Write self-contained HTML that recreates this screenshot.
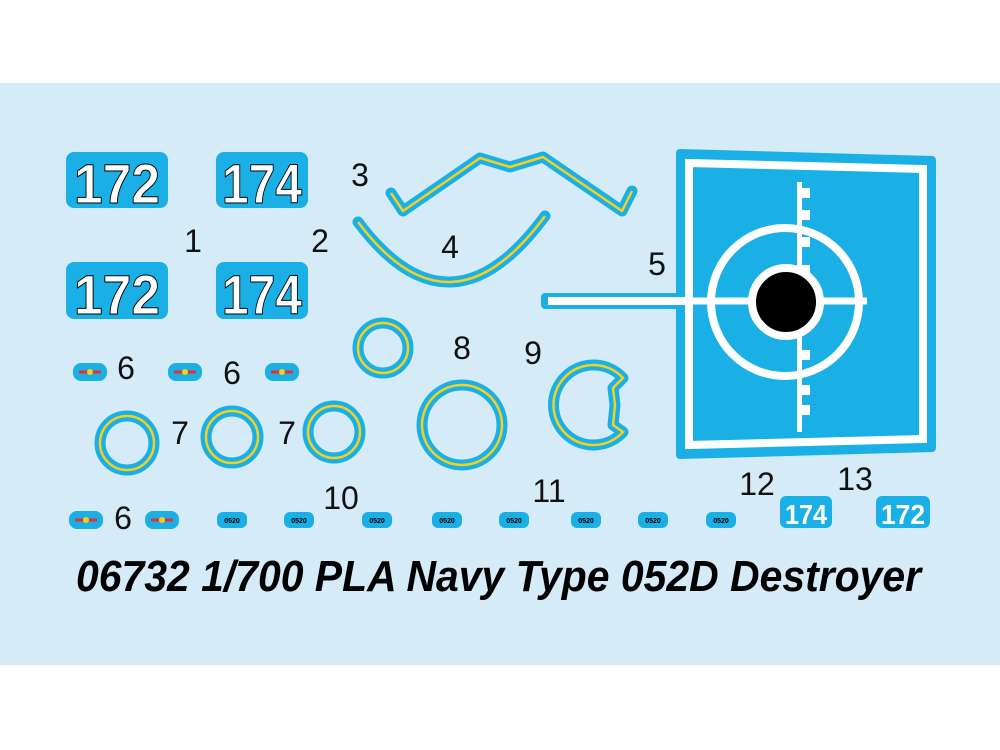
<!DOCTYPE html>
<html><head><meta charset="utf-8"><style>
html,body{margin:0;padding:0;background:#fff;}
svg{display:block;}
text{font-family:"Liberation Sans",sans-serif;}
</style></head><body>
<svg width="1000" height="750" viewBox="0 0 1000 750" xmlns="http://www.w3.org/2000/svg">
<rect x="0" y="0" width="1000" height="750" fill="#fff"/>
<rect x="0" y="83" width="1000" height="582" fill="#d5ecf8"/>

<!-- number decals -->
<g font-weight="bold" font-size="56" fill="#fff">
  <rect x="66" y="152" width="102" height="56" rx="8" fill="#1ab0e6"/>
  <text x="74" y="203" textLength="86" lengthAdjust="spacingAndGlyphs" stroke="#000" stroke-width="1">172</text>
  <rect x="216" y="152" width="92" height="56" rx="8" fill="#1ab0e6"/>
  <text x="222" y="203" textLength="80" lengthAdjust="spacingAndGlyphs" stroke="#000" stroke-width="1">174</text>
  <rect x="66" y="262" width="102" height="57" rx="8" fill="#1ab0e6"/>
  <text x="74" y="314" textLength="86" lengthAdjust="spacingAndGlyphs" stroke="#000" stroke-width="1">172</text>
  <rect x="216" y="262" width="92" height="57" rx="8" fill="#1ab0e6"/>
  <text x="222" y="314" textLength="80" lengthAdjust="spacingAndGlyphs" stroke="#000" stroke-width="1">174</text>
</g>

<!-- shape 3 -->
<polyline points="391,193 403,211 480,158 510,167 543,157 622,211 632,191" fill="none" stroke="#1ab0e6" stroke-width="11" stroke-linejoin="round" stroke-linecap="round"/>
<polyline points="391,193 403,211 480,158 510,167 543,157 622,211 632,191" fill="none" stroke="#f5d020" stroke-width="2.5" stroke-linejoin="round"/>
<!-- shape 4 -->
<path d="M358,222 Q450,345 545,216" fill="none" stroke="#1ab0e6" stroke-width="11" stroke-linecap="round"/>
<path d="M358,222 Q450,345 545,216" fill="none" stroke="#f5d020" stroke-width="2.5"/>

<!-- square 5 -->
<rect x="541" y="293" width="145" height="16" rx="4" fill="#1ab0e6"/>
<polygon points="680,153 932,160 932,448 680,455" fill="#1ab0e6" stroke="#1ab0e6" stroke-width="8" stroke-linejoin="round"/>
<polygon points="689,163 923,169 923,439 689,445" fill="none" stroke="#fff" stroke-width="8"/>
<rect x="548" y="297" width="140" height="8" fill="#fff"/>
<line x1="688" y1="301" x2="867" y2="301" stroke="#fff" stroke-width="7"/>
<g fill="#fff">
  <rect x="797" y="182" width="5" height="250"/>
  <rect x="802" y="188" width="8" height="10"/>
  <rect x="802" y="210" width="8" height="10"/>
  <rect x="802" y="237" width="8" height="10"/>
  <rect x="802" y="265" width="8" height="10"/>
  <rect x="802" y="350" width="8" height="10"/>
  <rect x="802" y="385" width="8" height="10"/>
  <rect x="802" y="405" width="8" height="10"/>
</g>
<circle cx="785" cy="302" r="74" fill="none" stroke="#fff" stroke-width="8"/>
<circle cx="786" cy="302" r="34" fill="#000" stroke="#fff" stroke-width="8"/>

<!-- rings 7,8 -->
<g fill="none">
  <circle cx="127" cy="443" r="27" stroke="#1ab0e6" stroke-width="11"/>
  <circle cx="127" cy="443" r="27" stroke="#f5d020" stroke-width="2.5"/>
  <circle cx="232" cy="437" r="26" stroke="#1ab0e6" stroke-width="11"/>
  <circle cx="232" cy="437" r="26" stroke="#f5d020" stroke-width="2.5"/>
  <circle cx="334" cy="432" r="26" stroke="#1ab0e6" stroke-width="11"/>
  <circle cx="334" cy="432" r="26" stroke="#f5d020" stroke-width="2.5"/>
  <circle cx="383" cy="348" r="25" stroke="#1ab0e6" stroke-width="11"/>
  <circle cx="383" cy="348" r="25" stroke="#f5d020" stroke-width="2.5"/>
  <circle cx="462" cy="425" r="40" stroke="#1ab0e6" stroke-width="11"/>
  <circle cx="462" cy="425" r="40" stroke="#f5d020" stroke-width="2.5"/>
  <path d="M623,378 A40,40 0 1 0 623,432 L613,425 L615,405 L613,388 Z" stroke="#1ab0e6" stroke-width="11" stroke-linejoin="round"/>
  <path d="M623,378 A40,40 0 1 0 623,432 L613,425 L615,405 L613,388 Z" stroke="#f5d020" stroke-width="2.5"/>
</g>

<!-- flag decals -->
<g>
  <g transform="translate(90,372)"><rect x="-17" y="-9" width="34" height="18" rx="8" fill="#1ab0e6"/><rect x="-11" y="-1.5" width="22" height="3" fill="#e8302a"/><circle cx="0" cy="0" r="3" fill="#f5d020"/></g>
  <g transform="translate(185,372)"><rect x="-17" y="-9" width="34" height="18" rx="8" fill="#1ab0e6"/><rect x="-11" y="-1.5" width="22" height="3" fill="#e8302a"/><circle cx="0" cy="0" r="3" fill="#f5d020"/></g>
  <g transform="translate(282,372)"><rect x="-17" y="-9" width="34" height="18" rx="8" fill="#1ab0e6"/><rect x="-11" y="-1.5" width="22" height="3" fill="#e8302a"/><circle cx="0" cy="0" r="3" fill="#f5d020"/></g>
  <g transform="translate(86,520)"><rect x="-17" y="-9" width="34" height="18" rx="8" fill="#1ab0e6"/><rect x="-11" y="-1.5" width="22" height="3" fill="#e8302a"/><circle cx="0" cy="0" r="3" fill="#f5d020"/></g>
  <g transform="translate(162,520)"><rect x="-17" y="-9" width="34" height="18" rx="8" fill="#1ab0e6"/><rect x="-11" y="-1.5" width="22" height="3" fill="#e8302a"/><circle cx="0" cy="0" r="3" fill="#f5d020"/></g>
</g>

<!-- 0520 small decals -->
<g font-size="7" font-weight="bold" text-anchor="middle" fill="#000">
  <rect x="217" y="512" width="30" height="16" rx="6" fill="#1ab0e6"/><text x="232" y="523">0520</text>
  <rect x="284" y="512" width="30" height="16" rx="6" fill="#1ab0e6"/><text x="299" y="523">0520</text>
  <rect x="362" y="512" width="30" height="16" rx="6" fill="#1ab0e6"/><text x="377" y="523">0520</text>
  <rect x="432" y="512" width="30" height="16" rx="6" fill="#1ab0e6"/><text x="447" y="523">0520</text>
  <rect x="499" y="512" width="30" height="16" rx="6" fill="#1ab0e6"/><text x="514" y="523">0520</text>
  <rect x="571" y="512" width="30" height="16" rx="6" fill="#1ab0e6"/><text x="586" y="523">0520</text>
  <rect x="638" y="512" width="30" height="16" rx="6" fill="#1ab0e6"/><text x="653" y="523">0520</text>
  <rect x="706" y="512" width="30" height="16" rx="6" fill="#1ab0e6"/><text x="721" y="523">0520</text>
</g>
<g font-size="28" font-weight="bold" fill="#fff">
  <rect x="780" y="496" width="52" height="32" rx="6" fill="#1ab0e6"/><text x="785" y="524" textLength="42" lengthAdjust="spacingAndGlyphs">174</text>
  <rect x="876" y="496" width="54" height="32" rx="6" fill="#1ab0e6"/><text x="881" y="524" textLength="44" lengthAdjust="spacingAndGlyphs">172</text>
</g>

<!-- labels -->
<g font-size="32" fill="#111" text-anchor="middle">
  <text x="193" y="252">1</text>
  <text x="320" y="252">2</text>
  <text x="360" y="186">3</text>
  <text x="450" y="258">4</text>
  <text x="657" y="275">5</text>
  <text x="126" y="379">6</text>
  <text x="232" y="384">6</text>
  <text x="123" y="529">6</text>
  <text x="180" y="444">7</text>
  <text x="287" y="444">7</text>
  <text x="462" y="359">8</text>
  <text x="533" y="364">9</text>
  <text x="341" y="509">10</text>
  <text x="549" y="502">11</text>
  <text x="757" y="495">12</text>
  <text x="855" y="490">13</text>
</g>

<text x="76" y="591" font-size="44" font-weight="bold" font-style="italic" fill="#000" textLength="845" lengthAdjust="spacingAndGlyphs">06732 1/700  PLA Navy Type 052D Destroyer</text>
</svg>
</body></html>
